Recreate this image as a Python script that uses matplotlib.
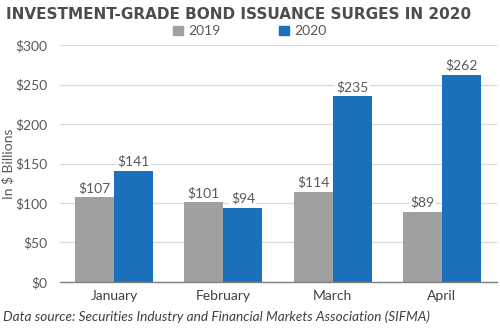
import matplotlib.pyplot as plt
import numpy as np
from matplotlib.patches import Patch

months = ["January", "February", "March", "April"]
issuance_2019 = [107, 101, 114, 89]
issuance_2020 = [141, 94, 235, 262]
yticks = [0, 50, 100, 150, 200, 250, 300]

c2019 = "#A0A0A3"
c2020 = "#1A70BA"
txt = "#595959"

plt.rcParams['font.family'] = ['Lato', 'DejaVu Sans']

fig = plt.figure(figsize=(5.0, 3.29), dpi=100)
ax = fig.add_axes([0.119, 0.143, 0.874, 0.72])

x = np.arange(len(months))
w = 0.357
b1 = ax.bar(x - w / 2, issuance_2019, w, color=c2019, zorder=2)
b2 = ax.bar(x + w / 2, issuance_2020, w, color=c2020, zorder=2)

for bars, vals in ((b1, issuance_2019), (b2, issuance_2020)):
    for r, v in zip(bars, vals):
        ax.text(r.get_x() + r.get_width() / 2, v + 4, f"${v}", ha="center", va="bottom",
                fontsize=10, color=txt, zorder=3,
                bbox=dict(facecolor="white", edgecolor="none", pad=1.0))

ax.set_xlim(-0.5, 3.5)
ax.set_ylim(0, 300)
ax.set_yticks(yticks)
ax.set_yticklabels([f"${t}" for t in yticks], fontsize=10, color=txt)
ax.set_xticks(x)
ax.set_xticklabels(months, fontsize=10, color="#404040")
ax.tick_params(axis="both", length=0, pad=6)
ax.tick_params(axis="y", pad=8.5)
ax.grid(axis="y", color="#D9D9D9", linewidth=0.9, zorder=0)
for s in ("top", "right", "left"):
    ax.spines[s].set_visible(False)
ax.spines["bottom"].set_color("#808080")
ax.spines["bottom"].set_linewidth(1.0)
ax.set_ylabel("In $ Billions", fontsize=10, color=txt)
ax.yaxis.set_label_coords(-0.104, 0.5)

fig.text(0.012, 0.955, "INVESTMENT-GRADE BOND ISSUANCE SURGES IN 2020", fontsize=11,
         fontweight="bold", color="#4D4D4D", ha="left", va="center",
         family=["DejaVu Sans"])

handles = [Patch(color=c2019, label="2019"), Patch(color=c2020, label="2020")]
fig.legend(handles=handles, loc="center", bbox_to_anchor=(0.5, 0.905), ncol=2,
           frameon=False, fontsize=10, handlelength=0.7, handleheight=0.7,
           handletextpad=0.4, columnspacing=4.2, labelcolor=txt)

fig.text(0.006, 0.038, "Data source: Securities Industry and Financial Markets Association (SIFMA)",
         fontsize=9.8, style="italic", color="#404040", ha="left", va="center")

fig.savefig("out.png", dpi=100)
